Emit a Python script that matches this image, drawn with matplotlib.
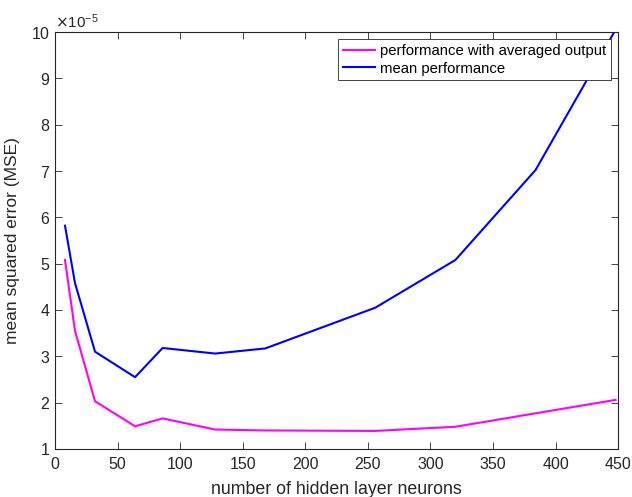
import matplotlib.pyplot as plt

plt.rcParams['font.family'] = ['Liberation Sans', 'DejaVu Sans']

neurons = [8, 16, 32, 64, 86, 128, 168, 256, 320, 384, 448]
mse_avg = [5.08, 3.55, 2.03, 1.49, 1.66, 1.42, 1.40, 1.39, 1.48, 1.77, 2.06]
mse_mean = [5.82, 4.58, 3.10, 2.55, 3.18, 3.06, 3.17, 4.05, 5.08, 7.02, 10.05]

mse_avg = [v * 1e-5 for v in mse_avg]
mse_mean = [v * 1e-5 for v in mse_mean]

fig = plt.figure(figsize=(6.32, 4.97), dpi=100)
ax = fig.add_axes([0.087, 0.0966, 0.891, 0.839])

ax.plot(neurons, mse_avg, color='#ff00ff', lw=1.5, label='performance with averaged output')
ax.plot(neurons, mse_mean, color='#0000ff', lw=1.5, label='mean performance')

ax.set_xlim(0, 450)
ax.set_ylim(1e-5, 10e-5)
ax.set_xticks(range(0, 451, 50))
ax.set_yticks([i * 1e-5 for i in range(1, 11)])
ax.ticklabel_format(axis='y', style='sci', scilimits=(-5, -5), useMathText=True)
ax.yaxis.get_offset_text().set_fontsize(11)
ax.yaxis.get_offset_text().set_color('#262626')

ax.tick_params(direction='in', top=True, right=True, labelsize=11.5, colors='#262626', length=5, width=0.6)
ax.tick_params(axis='x', pad=6)
for s in ax.spines.values():
    s.set_color('#262626')
    s.set_linewidth(0.8)

ax.set_xlabel('number of hidden layer neurons', fontsize=12.8, color='#262626', labelpad=6)
ax.set_ylabel('mean squared error (MSE)', fontsize=12.5, color='#262626', labelpad=8)

leg = ax.legend(loc='upper right', fontsize=10.7, fancybox=False, framealpha=1,
                edgecolor='#262626', borderaxespad=0.5, handlelength=2.2,
                handletextpad=0.3, borderpad=0.3, labelspacing=0.25)
leg.get_frame().set_linewidth(0.6)

plt.savefig('out.png', dpi=100)
